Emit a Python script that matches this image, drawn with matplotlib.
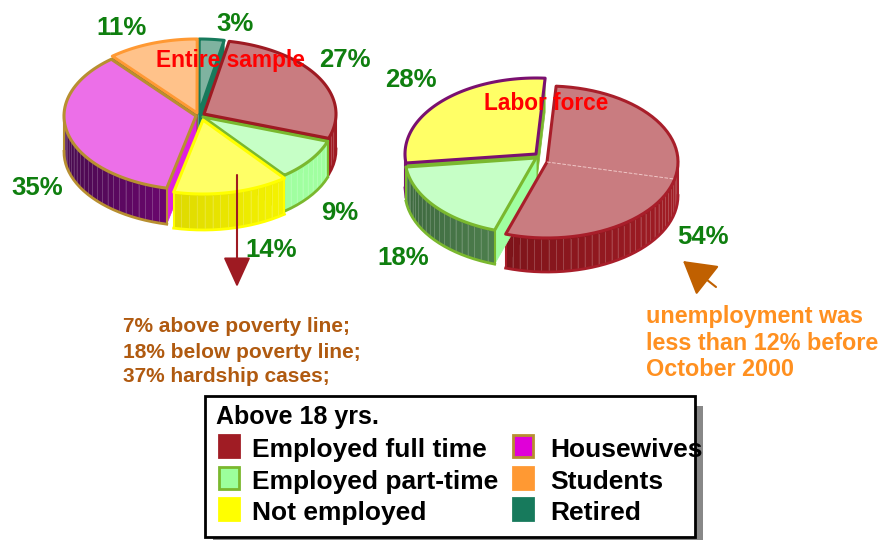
import numpy as np
import matplotlib
matplotlib.use('Agg')
import matplotlib.pyplot as plt
from matplotlib.colors import to_rgb
from matplotlib.patches import Rectangle

plt.rcParams['font.family'] = ['Liberation Sans', 'DejaVu Sans']
plt.rcParams['font.weight'] = 'bold'

GREEN = '#0f7f0f'

# data
left_names = ['Employed full time', 'Employed part-time', 'Not employed', 'Housewives', 'Students', 'Retired']
left_values = [27, 9, 14, 35, 11, 3]
right_names = ['Employed full time', 'Employed part-time', 'Not employed']
right_values = [54, 18, 28]
poverty_lines = ['7% above poverty line;', '18% below poverty line;', '37% hardship cases;']
unemployment_lines = ['unemployment was', 'less than 12% before', 'October 2000']
legend_title = 'Above 18 yrs.'

# styles: top fill, outline, side colour left, side colour right
top_colors = {'Employed full time': '#c97c80', 'Employed part-time': '#c6ffc6', 'Not employed': '#ffff66',
              'Housewives': '#ec6fe8', 'Students': '#ffc28a', 'Retired': '#7fb3a0'}
edge_colors = {'Employed full time': '#9e1a22', 'Employed part-time': '#7ab82e', 'Not employed': '#ffff00',
               'Housewives': '#b88f30', 'Students': '#ff9933', 'Retired': '#177a5c'}
side_colors = {'Employed full time': ('#6a0f14', '#a01c24'), 'Employed part-time': ('#a0ffa0', '#a0ffa0'),
               'Not employed': ('#c8c000', '#ffff00'), 'Housewives': ('#4a0a50', '#a000a0'),
               'Students': ('#a06020', '#a06020'), 'Retired': ('#177a5c', '#177a5c')}
cut_colors = {'Housewives': '#e020e0', 'Students': '#80561c', 'Employed part-time': '#a0ffa0',
              'Employed full time': '#6a0f14', 'Not employed': '#d0c800', 'Retired': '#177a5c'}


# one 3d pie, slices run clockwise from start_angle
def draw_pie(ax, names, values, cx, cy, rx, ry, depth, start_angle, offsets, edges=None, sides=None, cuts=None):
    edges = {**edge_colors, **(edges or {})}
    sides = {**side_colors, **(sides or {})}
    cuts = {**cut_colors, **(cuts or {})}
    sweep = 360 * np.array(values) / sum(values)
    ends = start_angle - np.cumsum(sweep)
    starts = ends + sweep
    mids = np.radians((starts + ends) / 2)
    x0, x1 = cx - rx, cx + rx

    # back slices first
    for i in np.argsort(-np.sin(mids)):
        name = names[i]
        dx, dy = offsets[i]
        ax0, ay0 = cx + dx, cy + dy
        theta = np.radians(np.linspace(starts[i], ends[i], 60))
        ex = ax0 + rx * np.cos(theta)
        ey = ay0 - ry * np.sin(theta)

        # cut faces
        for k in (0, -1):
            ax.fill([ax0, ex[k], ex[k], ax0], [ay0, ey[k], ey[k] + depth, ay0 + depth],
                    color=cuts[name], lw=0.5, zorder=2)

        # rim, split in strips
        front = np.sin(theta) < 0.02
        idx = np.where(front)[0]
        if len(idx) > 1:
            th = np.linspace(theta[idx[0]], theta[idx[-1]], max(2, int(abs(theta[idx[-1]] - theta[idx[0]]) * rx / 7)))
            sx = ax0 + rx * np.cos(th)
            sy = ay0 - ry * np.sin(th)
            c0, c1 = np.array(to_rgb(sides[name][0])), np.array(to_rgb(sides[name][1]))
            for j in range(len(th) - 1):
                t = ((sx[j] + sx[j + 1]) / 2 - x0) / (x1 - x0)
                col = c0 + (c1 - c0) * t
                ax.fill([sx[j], sx[j + 1], sx[j + 1], sx[j]],
                        [sy[j], sy[j + 1], sy[j + 1] + depth, sy[j] + depth],
                        facecolor=col, edgecolor=col, lw=0.3, zorder=2)
                ax.plot([sx[j], sx[j]], [sy[j] + 2, sy[j] + depth - 2],
                        color=0.75 * col + 0.25, lw=0.5, zorder=2)
            ax.plot(sx, sy + depth, color=edges[name], lw=2, zorder=2)
            ax.plot([sx[0], sx[0]], [sy[0], sy[0] + depth], color=edges[name], lw=1.5, zorder=2)
            ax.plot([sx[-1], sx[-1]], [sy[-1], sy[-1] + depth], color=edges[name], lw=1.5, zorder=2)

        # top
        ax.fill(np.r_[ax0, ex], np.r_[ay0, ey], facecolor=top_colors[name], edgecolor=edges[name],
                lw=2.2, joinstyle='round', zorder=3)


fig = plt.figure(figsize=(8.8, 5.4), dpi=100)
ax = fig.add_axes([0, 0, 1, 1])
ax.set_xlim(0, 880)
ax.set_ylim(540, 0)
ax.axis('off')

left_offsets = [(4, -2), (3, 1), (3, 4), (-4, 0), (-3, -3), (-1, -3)]
draw_pie(ax, left_names, left_values, 200, 116, 132, 74, 36, 79, left_offsets)

right_offsets = [(6, 5), (-5, 1), (-5, -3)]
draw_pie(ax, right_names, right_values, 541, 157, 131, 76, 34, 86, right_offsets,
         edges={'Not employed': '#7a1070', 'Employed full time': '#a81e2a'},
         sides={'Employed part-time': ('#3f6a40', '#6aa868')},
         cuts={'Not employed': '#7ab82e'})

# seam on the big slice
seam = np.radians(-13)
ax.plot([547, 547 + 131 * np.cos(seam)], [162, 162 - 76 * np.sin(seam)], color='#f0c8c8', lw=0.7, ls='--', zorder=4)

# percentage labels
left_label_pos = [(345, 60), (340, 213), (271, 250), (37, 188), (121, 28), (235, 24)]
right_label_pos = [(703, 237), (403, 258), (411, 80)]
for v, (x, y) in zip(left_values + right_values, left_label_pos + right_label_pos):
    ax.text(x, y, f'{v}%', color=GREEN, fontsize=18.5, ha='center', va='center', zorder=6)

ax.text(230, 61, 'Entire sample', color='#ff0000', fontsize=16.4, ha='center', va='center', zorder=6)
ax.text(546, 103, 'Labor force', color='#ff0000', fontsize=16.3, ha='center', va='center', zorder=6)

# arrows
ax.annotate('', xy=(237, 287), xytext=(237, 175), zorder=5,
            arrowprops=dict(arrowstyle='-|>,head_length=1.1,head_width=0.5', color='#9e1a22', lw=1.5,
                            mutation_scale=17, shrinkA=0, shrinkB=0))
ax.annotate('', xy=(683, 261), xytext=(716, 287), zorder=5,
            arrowprops=dict(arrowstyle='-|>,head_length=1.2,head_width=0.7', color='#c06000', lw=1.5,
                            mutation_scale=17, shrinkA=0, shrinkB=0))

# notes
for line, y in zip(poverty_lines, [327, 353, 377]):
    ax.text(123, y, line, color='#b05a10', fontsize=15, va='center', ha='left')
for line, y in zip(unemployment_lines, [316, 343, 370]):
    ax.text(646, y, line, color='#ff9020', fontsize=16.8, va='center', ha='left')

# legend box
ax.add_patch(Rectangle((213, 406), 490, 140, facecolor='#888888', edgecolor='none', zorder=1))
ax.add_patch(Rectangle((205, 396), 490, 141, facecolor='white', edgecolor='black', lw=2, zorder=2))
ax.text(216, 417, legend_title, color='black', fontsize=18, va='center', ha='left', zorder=3)

legend_names = left_names
legend_x = [218, 218, 218, 512, 512, 512]
legend_y = [434, 466, 497, 434, 466, 497]
legend_fill = ['#a01c24', '#9cff9c', '#ffff00', '#e000d8', '#ff9933', '#177a5c']
legend_edge = ['#a01c24', '#7ab82e', '#ffff00', '#b88f30', '#ff9933', '#177a5c']
for name, x, y, fc, ec in zip(legend_names, legend_x, legend_y, legend_fill, legend_edge):
    ax.add_patch(Rectangle((x + 1, y + 1), 20, 22, facecolor=fc, edgecolor=ec, lw=2, zorder=3))
    ax.text(x + 34 if x < 500 else x + 38, y + 16, name, color='black', fontsize=19, va='center', ha='left', zorder=3)

fig.savefig('out.png', dpi=100)
